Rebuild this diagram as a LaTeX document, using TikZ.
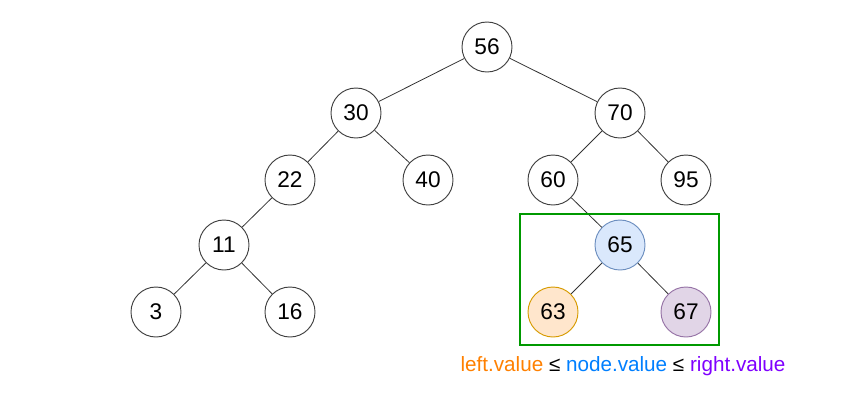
\documentclass[tikz,border=0pt]{standalone}
\usepackage{fontspec}
\setmainfont{Liberation Sans}
\usepackage{tikz}
\usepackage{xcolor}

\definecolor{leftc}{HTML}{FF8000}
\definecolor{nodec}{HTML}{007FFF}
\definecolor{rightc}{HTML}{7F00FF}
\definecolor{boxgreen}{HTML}{009900}

\tikzset{
  key/.style={circle, draw=black!75, line width=0.7pt, fill=white,
    minimum size=37.5pt, inner sep=0pt, font=\fontsize{17}{20}\selectfont},
  edge/.style={draw=black!80, line width=0.6pt}
}

\begin{document}
\begin{tikzpicture}[x=0.75pt, y=-0.75pt]
  \useasboundingbox (0,0) rectangle (857,401);

  % tree nodes
  \foreach \v/\x/\y in {56/487/47, 30/356/113, 70/620/113, 22/290/180,
      40/428/180, 60/553/180, 95/686/180, 11/224/245, 3/156/312, 16/290/312} {
    \node[key] (n\v) at (\x,\y) {\v};
  }
  \node[key, fill={rgb,255:red,218;green,232;blue,252}, draw={rgb,255:red,108;green,142;blue,191}] (n65) at (620,245) {65};
  \node[key, fill={rgb,255:red,255;green,230;blue,204}, draw={rgb,255:red,215;green,155;blue,0}] (n63) at (553,312) {63};
  \node[key, fill={rgb,255:red,225;green,213;blue,231}, draw={rgb,255:red,150;green,115;blue,166}] (n67) at (686,312) {67};

  \foreach \a/\b in {56/30, 56/70, 30/22, 30/40, 70/60, 70/95, 22/11,
      11/3, 11/16, 60/65, 65/63, 65/67} {
    \draw[edge] (n\a) -- (n\b);
  }

  % highlighted subtree
  \draw[boxgreen, line width=1.5pt] (520,214) rectangle (719,345);
  \node[font=\fontsize{15.5}{18}\selectfont] (rule) at (623,366)
    {\textcolor{leftc}{left.value} ≤ \textcolor{nodec}{node.value} ≤ \textcolor{rightc}{right.value}};
\end{tikzpicture}
\end{document}
